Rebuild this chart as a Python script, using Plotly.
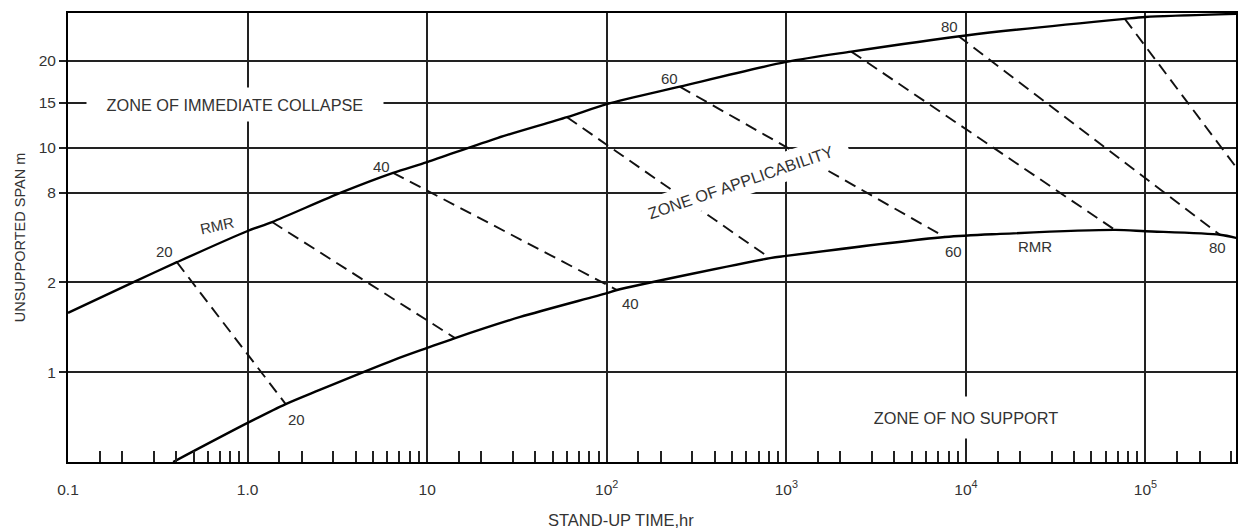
import math
import plotly.graph_objects as go

# ---- data (x: stand-up time in hours, y: position on the chart's span scale) ----
upper_x = [0.1, 0.227, 0.404, 1, 1.37, 3.36, 6.46, 10, 24.8, 60.1, 100, 255, 1000, 2300, 1e4, 7.67e4, 1e5, 3.2e5]
upper_y = [3.32, 3.99, 4.45, 5.145, 5.345, 6.01, 6.44, 6.68, 7.22, 7.68, 7.97, 8.36, 8.91, 9.14, 9.50, 9.87, 9.91, 9.98]

lower_x = [0.385, 1.0, 1.63, 2.5, 6.5, 10, 14.3, 33, 100, 114, 811, 1000, 7640, 1.55e4, 6.8e4, 1e5, 2.6e5, 3.2e5]
lower_y = [0.0, 0.87, 1.29, 1.60, 2.27, 2.54, 2.76, 3.23, 3.76, 3.83, 4.54, 4.59, 5.01, 5.08, 5.17, 5.14, 5.06, 4.99]

rmr_levels = [20, 30, 40, 50, 60, 70, 80, 90]
dash_x0 = [0.404, 1.37, 6.46, 60.1, 255, 2300, 9080, 76700]
dash_y0 = [4.45, 5.345, 6.44, 7.68, 8.36, 9.14, 9.49, 9.87]
dash_x1 = [1.63, 14.3, 114, 811, 7640, 67600, 2.6e5, 3.19e5]
dash_y1 = [1.29, 2.76, 3.83, 4.54, 5.01, 5.17, 5.06, 6.57]

y_tick_pos = [2, 4, 6, 7, 8, 8.93]
y_tick_text = ["1", "2", "8", "10", "15", "20"]

x_tick_vals = [0.1, 1, 10, 100, 1000, 1e4, 1e5]
x_tick_text = ["0.1", "1.0", "10", "10<sup>2</sup>", "10<sup>3</sup>", "10<sup>4</sup>", "10<sup>5</sup>"]
minor_mult = [1.5, 2, 3, 4, 5, 6, 7, 8, 9]
minor_vals = [m * 10 ** d for d in range(-1, 5) for m in minor_mult] + [1.5e5, 2e5, 3e5]

# curve labels: (time, span position, text, angle)
label_x = [0.343, 0.676, 5.6, 225, 8150, 1.88, 135, 8570, 24200, 2.53e5]
label_y = [4.68, 5.26, 6.59, 8.55, 9.69, 0.94, 3.54, 4.68, 4.79, 4.77]
label_text = ["20", "RMR", "40", "60", "80", "20", "40", "60", "RMR", "80"]
label_angle = [0, -12, 0, 0, 0, 0, 0, 0, 0, 0]

FONT = "Arial, Liberation Sans, sans-serif"
TXT = "#333333"

fig = go.Figure()

for i, lev in enumerate(rmr_levels):
    fig.add_trace(go.Scatter(
        x=[dash_x0[i], dash_x1[i]], y=[dash_y0[i], dash_y1[i]],
        mode="lines", line=dict(color="#111111", width=1.9, dash="12px,7px"),
        showlegend=False, hoverinfo="skip"))

fig.add_trace(go.Scatter(x=upper_x, y=upper_y, mode="lines",
                         line=dict(color="#000000", width=2.4, shape="spline", smoothing=0.8),
                         showlegend=False))
fig.add_trace(go.Scatter(x=lower_x, y=lower_y, mode="lines",
                         line=dict(color="#000000", width=2.4, shape="spline", smoothing=0.8),
                         showlegend=False))

ann = []
for x, y, t, a in zip(label_x, label_y, label_text, label_angle):
    ann.append(dict(x=math.log10(x), y=y, xref="x", yref="y", text=t, showarrow=False,
                    textangle=a, font=dict(family=FONT, size=15, color=TXT)))

# zone labels with white background interrupting the grid
ann.append(dict(x=math.log10(0.85), y=7.96, xref="x", yref="y", text="ZONE OF IMMEDIATE COLLAPSE",
                showarrow=False, bgcolor="white", width=296, height=33, borderpad=0,
                font=dict(family=FONT, size=16.3, color=TXT)))
ann.append(dict(x=math.log10(558), y=6.24, xref="x", yref="y", text="ZONE OF APPLICABILITY",
                showarrow=False, bgcolor="white", width=225, height=28, borderpad=0,
                textangle=-19, font=dict(family=FONT, size=16.3, color=TXT)))
ann.append(dict(x=math.log10(1e4), y=0.99, xref="x", yref="y", text="ZONE OF NO SUPPORT",
                showarrow=False, bgcolor="white", width=200, height=41, borderpad=0,
                font=dict(family=FONT, size=16.3, color=TXT)))

# x-axis title
ann.append(dict(x=0.4735, y=0, xref="paper", yref="paper", yanchor="middle", yshift=-58,
                text="STAND-UP TIME,hr", showarrow=False,
                font=dict(family=FONT, size=16.5, color=TXT)))

fig.update_layout(
    width=1238, height=532,
    margin=dict(l=68, r=2, t=13, b=70),
    paper_bgcolor="white", plot_bgcolor="white",
    font=dict(family=FONT, size=15.5, color=TXT),
    annotations=ann,
    xaxis=dict(
        type="log", range=[-1, 5.504], automargin=False,
        tickmode="array", tickvals=x_tick_vals, ticktext=x_tick_text,
        ticks="", ticklabelstandoff=12,
        showgrid=True, gridcolor="#222222", gridwidth=1.5,
        showline=True, linecolor="#000000", linewidth=2, mirror=True,
        zeroline=False,
        minor=dict(tickmode="array", tickvals=minor_vals, ticks="inside",
                   ticklen=11, tickwidth=1.5, tickcolor="#222222", showgrid=False),
    ),
    yaxis=dict(
        range=[0, 10], automargin=False,
        tickmode="array", tickvals=y_tick_pos, ticktext=y_tick_text,
        ticks="outside", ticklen=7, tickcolor="#222222", tickwidth=1.5,
        showgrid=True, gridcolor="#222222", gridwidth=1.5,
        showline=True, linecolor="#000000", linewidth=2, mirror=True,
        zeroline=False,
        title=dict(text="UNSUPPORTED SPAN m", font=dict(size=14.5, family=FONT, color=TXT), standoff=10),
    ),
)

# remove the page's default body margin so the figure sits at the window origin
fig.write_html(
    "out.html",
    config={"displayModeBar": False},
    post_script=("document.body.style.margin='0';"
                 "document.body.style.overflow='hidden';"
                 "document.documentElement.style.overflow='hidden';"),
)
